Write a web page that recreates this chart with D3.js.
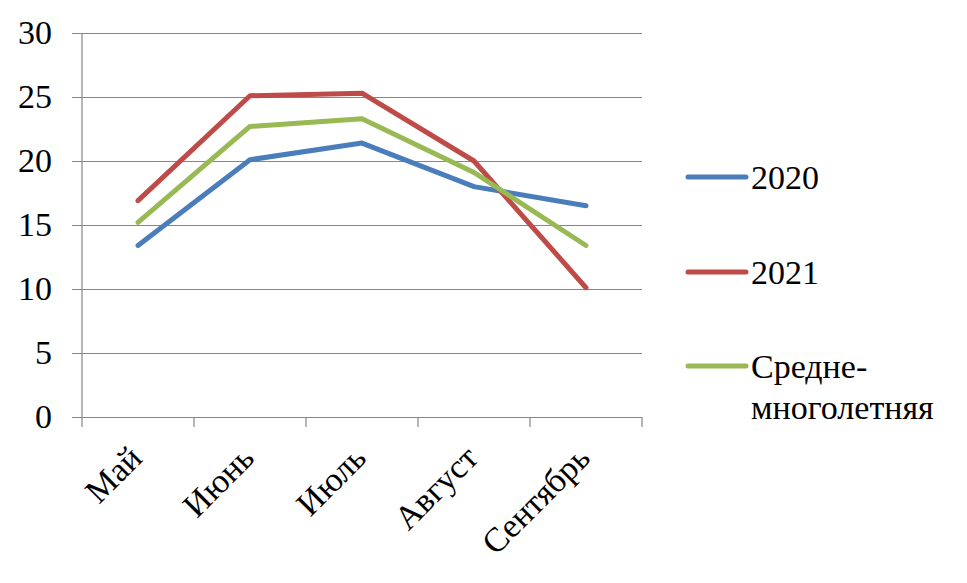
<!DOCTYPE html>
<html>
<head>
<meta charset="utf-8">
<script src="https://cdn.jsdelivr.net/npm/d3@7"></script>
<style>
  html, body { margin: 0; padding: 0; background: #fff; }
  svg { display: block; }
</style>
</head>
<body>
<script>
const categories = ["Май", "Июнь", "Июль", "Август", "Сентябрь"];
const values2020 = [13.4, 20.1, 21.4, 18.0, 16.5];
const values2021 = [16.9, 25.1, 25.3, 20.0, 10.1];
const valuesAvg = [15.2, 22.7, 23.3, 19.1, 13.4];
const yTicks = [0, 5, 10, 15, 20, 25, 30];
const seriesNames = ["2020", "2021", "Средне-многолетняя"];
const seriesColors = ["#4A7EBB", "#BE4B48", "#98B954"];

const FONT = "'Liberation Serif'";
const W = 967, H = 583;
const plotL = 82, plotR = 642, plotT = 33, plotB = 417;

const svg = d3.select("body").append("svg").attr("width", W).attr("height", H);

const x = d3.scaleBand().domain(categories).range([plotL, plotR]).paddingInner(0).paddingOuter(0);
const y = d3.scaleLinear().domain([0, 30]).range([plotB, plotT]);

// gridlines + y axis
const yAxis = d3.axisLeft(y).tickValues(yTicks).tickSize(plotR - plotL + 10).tickFormat(d => d).tickPadding(20);
const gy = svg.append("g").attr("transform", `translate(${plotR},0)`).call(yAxis);
gy.attr("font-family", null).attr("font-size", null);
gy.select(".domain").remove();
gy.selectAll(".tick line").attr("stroke", "#868686").attr("stroke-width", 1.2);
gy.selectAll(".tick text").style("font-size", "34px").attr("fill", "#000")
  .style("font-family", FONT);

// y axis vertical line
svg.append("line").attr("x1", plotL).attr("x2", plotL).attr("y1", y(30)).attr("y2", y(0))
  .attr("stroke", "#868686").attr("stroke-width", 1.2);

// x axis ticks at band boundaries
const bounds = categories.map(c => x(c)).concat([x(categories[categories.length - 1]) + x.bandwidth()]);
svg.append("g").selectAll("line").data(bounds).join("line")
  .attr("x1", d => d).attr("x2", d => d).attr("y1", y(0)).attr("y2", y(0) + 10)
  .attr("stroke", "#868686").attr("stroke-width", 1.2);

// x labels
svg.append("g").selectAll("text").data(categories).join("text")
  .attr("transform", d => `translate(${x(d) + x.bandwidth() / 2 + 6},${y(0) + 43}) rotate(-45)`)
  .attr("text-anchor", "end")
  .style("font-size", "34px")
  .style("font-family", FONT)
  .text(d => d);

// lines
const allSeries = [values2020, values2021, valuesAvg];
const line = d3.line()
  .x((d, i) => x(categories[i]) + x.bandwidth() / 2)
  .y(d => y(d));

svg.append("g").selectAll("path").data(allSeries).join("path")
  .attr("d", d => line(d))
  .attr("fill", "none")
  .attr("stroke", (d, i) => seriesColors[i])
  .attr("stroke-width", 5)
  .attr("stroke-linejoin", "round")
  .attr("stroke-linecap", "round");

// legend
const legendY = [177, 272, 366];
const lg = svg.append("g");
seriesNames.forEach((name, i) => {
  lg.append("line").attr("x1", 688).attr("x2", 746).attr("y1", legendY[i]).attr("y2", legendY[i])
    .attr("stroke", seriesColors[i]).attr("stroke-width", 5).attr("stroke-linecap", "round");
  const t = lg.append("text").attr("x", 751).attr("y", legendY[i] + 12)
    .style("font-size", "34px").style("font-family", FONT);
  if (name.indexOf("-") > 0 && name.length > 10) {
    const parts = name.split("-");
    t.append("tspan").attr("x", 751).text(parts[0] + "-");
    t.append("tspan").attr("x", 751).attr("dy", 41).text(parts[1]);
  } else {
    t.text(name);
  }
});
</script>
</body>
</html>
